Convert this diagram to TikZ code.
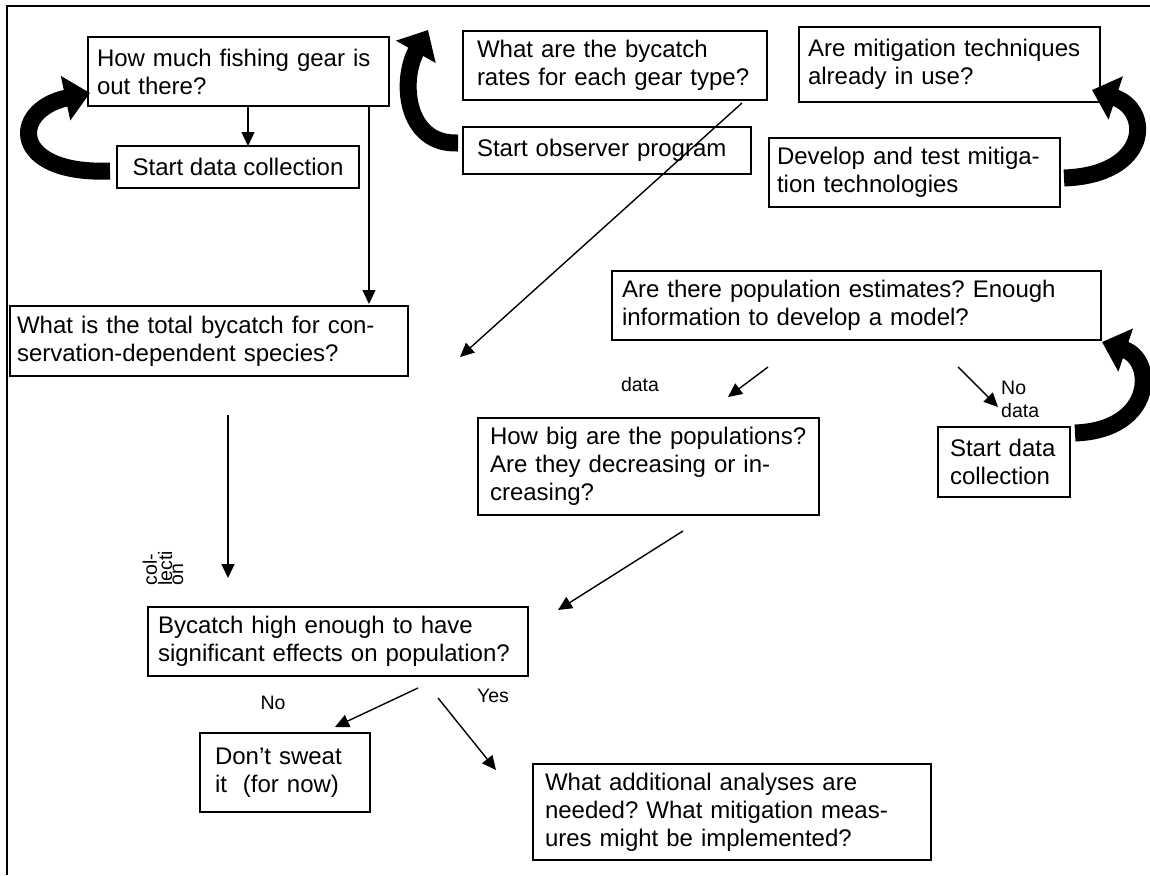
\documentclass[tikz,border=0pt]{standalone}
\usepackage{fontspec}
\setmainfont{Liberation Sans}
\usetikzlibrary{arrows.meta}
\frenchspacing
\begin{document}
\begin{tikzpicture}[x=1pt,y=-1pt,
 box/.style={draw, line width=1.6pt, align=left, inner ysep=0pt, font=\fontsize{24}{28}\selectfont},
 lbl/.style={font=\fontsize{19.5}{23}\selectfont, inner sep=0pt},
 arr/.style={line width=1.4pt, -{Triangle[length=14pt,width=13pt]}},
 bigarr/.style={line width=17pt, -{Triangle[length=25pt,width=44pt]}},
 frame/.style={line width=1.4pt}]
\useasboundingbox (0,0) rectangle (1150,875);
\draw[frame] (7,875) -- (7,6) -- (1150,6);

% boxes
\node[box, text width=283pt, inner xsep=9pt, minimum height=69pt] (q1) at (238.5,71.5) {How much fishing gear is\\out there?};
\node[box, align=center, minimum width=242pt, minimum height=42pt] (s1) at (238,167) {Start data collection};
\node[box, text width=276pt, inner xsep=14pt, minimum height=69pt] (q2) at (615,65.5) {What are the bycatch\\rates for each gear type?};
\node[box, text width=260pt, inner xsep=14pt, minimum height=47pt] (s2) at (607,150.5) {Start observer program};
\node[box, text width=283pt, inner xsep=9pt, minimum height=75pt] (q3) at (949.5,64.5) {Are mitigation techniques\\already in use?};
\node[box, text width=275pt, inner xsep=8pt, minimum height=69pt] (s3) at (914.5,172.5) {Develop and test mitiga-\\tion technologies};
\node[box, text width=469pt, inner xsep=10pt, minimum height=69pt] (q4) at (856.5,305.5) {Are there population estimates? Enough\\information to develop a model?};
\node[box, text width=108pt, inner xsep=12pt, minimum height=70pt] (s4) at (1004,462) {Start data\\collection};
\node[box, text width=317pt, inner xsep=12pt, minimum height=97pt] (q5) at (648.5,466.5) {How big are the populations?\\Are they decreasing or in-\\creasing?};
\node[box, text width=384pt, inner xsep=7pt, minimum height=70pt] (q6) at (209,341) {What is the total bycatch for con-\\servation-dependent species?};
\node[box, text width=360pt, inner xsep=10pt, minimum height=69pt] (q7) at (338,641.5) {Bycatch high enough to have\\significant effects on population?};
\node[box, text width=140pt, inner xsep=15pt, minimum height=79pt] (e1) at (285,772.5) {Don’t sweat\\it~~(for now)};
\node[box, text width=374pt, inner xsep=12pt, minimum height=96pt] (e2) at (732,812) {What additional analyses are\\needed? What mitigation meas-\\ures might be implemented?};

% labels
\node[lbl] (ldata) at (640,385) {data};
\node[lbl, anchor=west, align=left] (lnodata) at (1001,399) {No\\data};
\node[lbl] (lno) at (273,703) {No};
\node[lbl] (lyes) at (493,696) {Yes};
\node[lbl, font=\fontsize{19.5}{11}\selectfont, rotate=90, align=left] (lcol) at (163,568) {col-\\lecti\\on};

% connector end points
\coordinate (g1) at (248,106); \coordinate (g2) at (248,146);
\coordinate (t1) at (369,106); \coordinate (t2) at (369,304);
\coordinate (r1) at (742,103); \coordinate (r2) at (460,357);
\coordinate (d1) at (768,367); \coordinate (d2) at (728,397);
\coordinate (n1) at (958,367); \coordinate (n2) at (998,407);
\coordinate (v1) at (228,415); \coordinate (v2) at (228,578);
\coordinate (p1) at (683,531); \coordinate (p2) at (558,610);
\coordinate (no1) at (418,688); \coordinate (no2) at (335,727);
\coordinate (y1) at (438,698); \coordinate (y2) at (496,770);

\draw[arr] (g1) -- (g2);
\draw[arr] (t1) -- (t2);
\draw[arr] (r1) -- (r2);
\draw[arr] (d1) -- (d2);
\draw[arr] (n1) -- (n2);
\draw[arr] (v1) -- (v2);
\draw[arr] (p1) -- (p2);
\draw[arr] (no1) -- (no2);
\draw[arr] (y1) -- (y2);

% thick curved arrows
\coordinate (ca1) at (110,171); \coordinate (cb1) at (90,93);
\coordinate (ca2) at (458,143); \coordinate (cb2) at (428,30);
\coordinate (ca3) at (1064,178); \coordinate (cb3) at (1092,90);
\coordinate (ca4) at (1075,433); \coordinate (cb4) at (1102,342);
\draw[bigarr] (ca1) .. controls (10,175) and (10,110) .. (cb1);
\draw[bigarr] (ca2) .. controls (405,145) and (400,80) .. (cb2);
\draw[bigarr] (ca3) .. controls (1150,175) and (1152,110) .. (cb3);
\draw[bigarr] (ca4) .. controls (1155,430) and (1155,360) .. (cb4);
\end{tikzpicture}
\end{document}
